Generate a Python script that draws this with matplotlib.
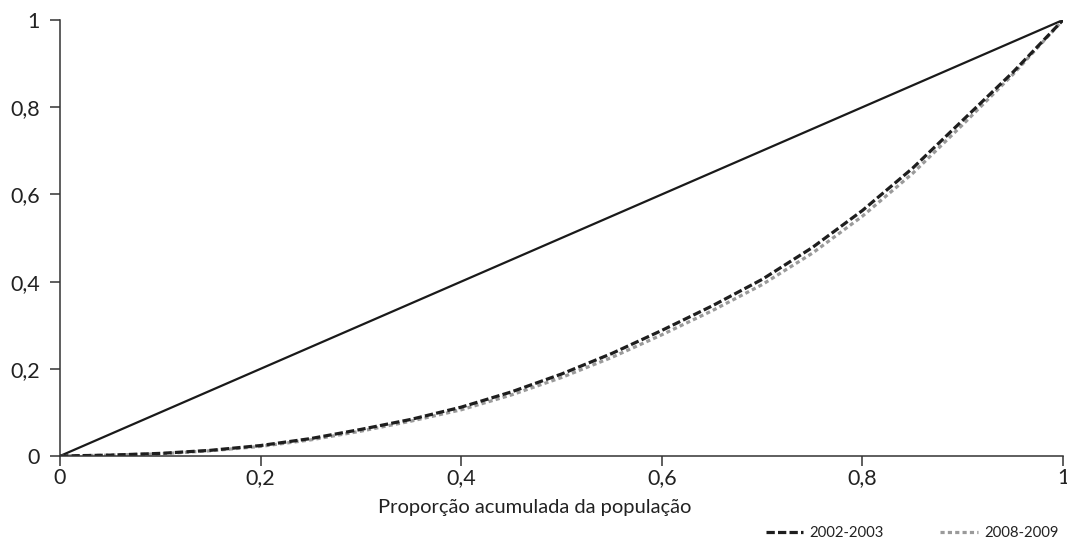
"""Curva de Lorenz: proporção acumulada da população, 2002-2003 vs 2008-2009."""
import matplotlib
matplotlib.use("Agg")
import matplotlib.pyplot as plt

plt.rcParams["font.family"] = ["Lato", "Open Sans", "DejaVu Sans"]

# population share (x) and cumulative income share
pop_share = [0.0, 0.05, 0.10, 0.15, 0.20, 0.25, 0.30, 0.35, 0.40, 0.45, 0.50,
             0.55, 0.60, 0.65, 0.70, 0.75, 0.80, 0.85, 0.90, 0.95, 1.0]
lorenz_2002 = [0.0, 0.002, 0.006, 0.013, 0.024, 0.040, 0.061, 0.084, 0.112, 0.147, 0.188,
               0.235, 0.288, 0.344, 0.405, 0.478, 0.563, 0.660, 0.770, 0.880, 1.0]
lorenz_2008 = [0.0, 0.002, 0.005, 0.012, 0.022, 0.037, 0.057, 0.080, 0.106, 0.140, 0.180,
               0.226, 0.278, 0.333, 0.393, 0.465, 0.550, 0.648, 0.760, 0.875, 1.0]
equality = [0.0, 1.0]

tick_values = [0, 0.2, 0.4, 0.6, 0.8, 1]
tick_labels = ["0", "0,2", "0,4", "0,6", "0,8", "1"]

fig = plt.figure(figsize=(10.67, 5.43), dpi=100)
ax = fig.add_axes([60 / 1067, 1 - 456 / 543, 1003 / 1067, 436 / 543])

ax.plot(equality, equality, color="#1a1a1a", linewidth=1.6, solid_capstyle="butt")
ax.plot(pop_share, lorenz_2008, color="#9a9a9a", linewidth=2.3,
        linestyle=(0, (1.3, 1.0)), dash_capstyle="butt", label="2008-2009")
ax.plot(pop_share, lorenz_2002, color="#1e1e1e", linewidth=2.3,
        linestyle=(0, (2.6, 1.0)), dash_capstyle="butt", label="2002-2003")

ax.set_xlim(0, 1)
ax.set_ylim(0, 1)
ax.set_xticks(tick_values, tick_labels)
ax.set_yticks(tick_values, tick_labels)
ax.tick_params(axis="both", direction="out", length=7.5, width=1.1, color="#333333",
               labelsize=15.5, labelcolor="#222222")
ax.tick_params(axis="x", pad=1)
ax.tick_params(axis="y", pad=7)
for side in ("top", "right"):
    ax.spines[side].set_visible(False)
for side in ("left", "bottom"):
    ax.spines[side].set_color("#333333")
    ax.spines[side].set_linewidth(1.1)
    ax.spines[side].set_clip_on(False)

# the label sits a little left of the axis centre in the original
ax.set_xlabel("Proporção acumulada da população", fontsize=14.5, color="#222222",
              labelpad=8, x=0.4736)

handles, labels = ax.get_legend_handles_labels()
fig.legend(handles[::-1], labels[::-1], loc="lower right", bbox_to_anchor=(0.995, 0.0),
           borderaxespad=0.1, borderpad=0.1, ncol=2, frameon=False, fontsize=10.7,
           handlelength=2.5, columnspacing=3.8, handletextpad=0.45, labelcolor="#222222")

fig.savefig("out.png", dpi=100)
